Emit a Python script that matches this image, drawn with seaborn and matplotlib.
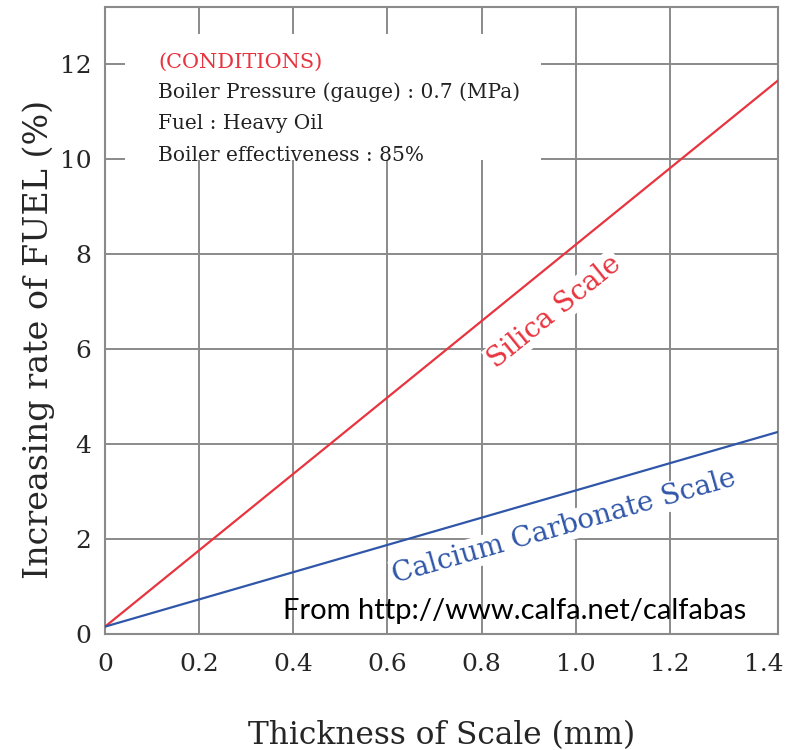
import matplotlib
matplotlib.use("Agg")
import matplotlib.pyplot as plt
import matplotlib.patches as mpatches
import seaborn as sns
import pandas as pd

# ============================================================
# DATA
# ============================================================
thickness = [0.0, 1.43]
silica = [0.15, 11.65]
calcium = [0.15, 4.25]

x_ticks = [0, 0.2, 0.4, 0.6, 0.8, 1.0, 1.2, 1.4]
x_tick_labels = ["0", "0.2", "0.4", "0.6", "0.8", "1.0", "1.2", "1.4"]
y_ticks = [0, 2, 4, 6, 8, 10, 12]

conditions = ["Boiler Pressure (gauge) : 0.7 (MPa)",
              "Fuel : Heavy Oil",
              "Boiler effectiveness : 85%"]

RED = "#e8343f"
BLUE = "#2f56a8"

df = pd.DataFrame({
    "thickness": thickness * 2,
    "rate": silica + calcium,
    "scale": ["Silica Scale"] * 2 + ["Calcium Carbonate Scale"] * 2,
})

sns.set_style("white")
plt.rcParams["font.family"] = ["DejaVu Serif"]

fig = plt.figure(figsize=(7.9, 7.5), dpi=100)
ax = fig.add_axes([0.133, 0.155, 0.852, 0.836])

sns.lineplot(data=df, x="thickness", y="rate", hue="scale",
             palette={"Silica Scale": RED, "Calcium Carbonate Scale": BLUE},
             linewidth=1.6, legend=False, ax=ax, zorder=4)

ax.set_xlim(0, 1.43)
ax.set_ylim(0, 13.2)
ax.set_xticks(x_ticks)
ax.set_xticklabels(x_tick_labels)
ax.set_yticks(y_ticks)
ax.tick_params(length=0, labelsize=18)
ax.tick_params(axis="x", pad=14)
ax.tick_params(axis="y", pad=10)
ax.grid(True, color="#8a8a8a", linewidth=1.4, zorder=0)
ax.set_axisbelow(True)
# the 1.4 gridline sits right on the spine, drop it
ax.xaxis.get_gridlines()[-1].set_visible(False)
for s in ax.spines.values():
    s.set_color("#8a8a8a")
    s.set_linewidth(1.5)

ax.set_xlabel("Thickness of Scale (mm)", fontsize=22.5)
ax.xaxis.set_label_coords(0.5, -0.137)
ax.set_ylabel("Increasing rate of FUEL (%)", fontsize=24)
ax.yaxis.set_label_coords(-0.074, 0.47)

# white box behind the conditions block (grid breaks there)
ax.add_patch(mpatches.Rectangle((0.03, 0.756), 0.618, 0.2, transform=ax.transAxes,
                                facecolor="white", edgecolor="none", zorder=1))

ax.text(0.079, 0.912, "(CONDITIONS)", transform=ax.transAxes, color=RED,
        fontsize=15, va="center", ha="left", zorder=5)
for i, line in enumerate(conditions):
    ax.text(0.079, 0.863 - i * 0.05, line, transform=ax.transAxes,
            color="#222222", fontsize=14.5, va="center", ha="left", zorder=5)

ax.text(0.955, 6.78, "Silica Scale", color=RED, fontsize=20, rotation=39,
        ha="center", va="center", zorder=5,
        bbox=dict(facecolor="white", edgecolor="none", pad=1))
ax.text(0.975, 2.25, "Calcium Carbonate Scale", color=BLUE, fontsize=20,
        rotation=16, ha="center", va="center", zorder=5,
        bbox=dict(facecolor="white", edgecolor="none", pad=1))

ax.text(0.264, 0.037, "From http://www.calfa.net/calfabas", transform=ax.transAxes,
        fontsize=21, family=["Lato", "DejaVu Sans"], color="black",
        ha="left", va="center", zorder=6)

plt.savefig("out.png", dpi=100)
plt.close()
